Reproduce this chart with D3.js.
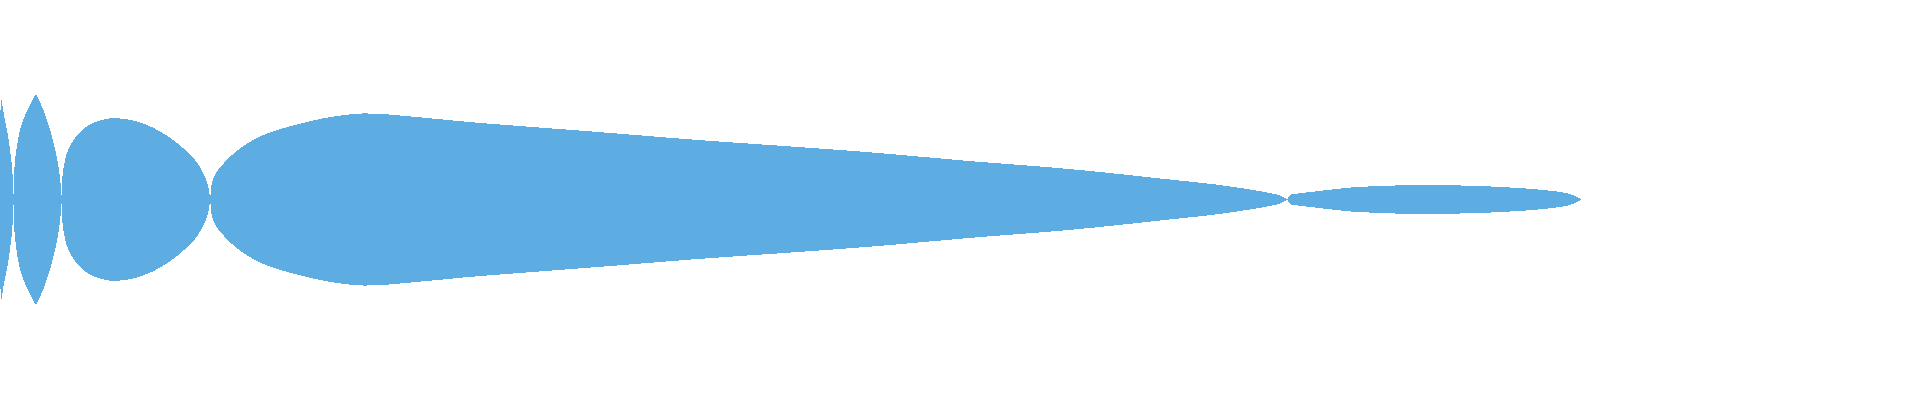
<!DOCTYPE html>
<html>
<head>
<meta charset="utf-8">
<style>
  html, body { margin: 0; padding: 0; background: #fff; overflow: hidden; }
</style>
<script src="https://cdn.jsdelivr.net/npm/d3@7"></script>
</head>
<body>
<div id="d3Id"></div>
<script>
// half thickness of the band at each position, sign flips at every pinch
var lobe1 = [[-8, 0], [-4, 55], [0, 83.5], [1.5, 99.5], [3, 90], [5, 79.5], [7, 69.5], [9, 57.5], [11, 42], [12, 32], [13, 17]]
var lobe2 = [[14, -25], [15, -38], [16, -47], [18, -60], [20, -69.5], [22, -76.5], [24, -82], [26, -86.5], [28, -91],
             [30, -95], [32, -99], [34, -102.5], [36, -105.5], [38, -101.5], [40, -97.5], [42, -93], [44, -88], [46, -82.5],
             [48, -76.5], [50, -70], [52, -63], [54, -55], [56, -46.5], [58, -36], [60, -22], [61, -10]]
var lobe3 = [[62, 17], [63, 28], [65, 39.5], [68, 49.5], [72, 57], [76, 63], [81, 68.5], [88, 74], [95, 77.5],
             [105, 80.5], [113, 81.5], [122, 81], [132, 79.5], [142, 76.5], [152, 72.5], [162, 67], [172, 60.5],
             [182, 52.5], [192, 43], [198, 35.5], [205, 23], [209, 9]]
var lobe4 = [[211, -10], [212, -17], [214, -23], [217, -28], [220, -32], [230, -42.8], [240, -51.2], [250, -57.8], [263, -64.5],
             [280, -70.5], [297, -75.2], [313, -79.2], [330, -82.6], [347, -85], [362, -86.2], [380, -85.8], [397, -84.5], [413, -83],
             [447, -79.8], [470, -77.6], [600, -67.5], [700, -59.5], [800, -52.5], [880, -46.5], [970, -38.5], [1070, -30.5],
             [1170, -20], [1220, -14.5], [1250, -10], [1270, -6.5], [1280, -4], [1287, 0]]
var lobe5 = [[1290, 4.5], [1300, 6.2], [1313, 7.8], [1330, 9.8], [1353, 12.2], [1380, 13.5], [1413, 14.5], [1433, 14.5], [1453, 14.2],
             [1480, 13.5], [1507, 12.2], [1533, 10.5], [1553, 8.5], [1567, 6.2], [1577, 2.8], [1581, 0]]

var band = lobe1.concat(lobe2, lobe3, lobe4, lobe5)

var width = 1920,
    height = 400;

var svg = d3.select('#d3Id')
  .append("svg")
  .attr("width", width)
  .attr("height", height)
  .style("display", "block");

var x_scale = d3.scaleLinear().domain([0, 1920]).range([0, width])
var y_scale = d3.scaleLinear().domain([-200, 200]).range([height - 1, 0])

var area = d3.area()
  .x(d => x_scale(d[0]))
  .y0(d => y_scale(-d[1]))
  .y1(d => y_scale(d[1]))
  .curve(d3.curveCatmullRom.alpha(0.5));

svg.append("path")
  .datum(band)
  .attr("d", area)
  .style("fill", "#5dade2")
  .style("stroke", "none")
  .attr("shape-rendering", "crispEdges");
</script>
</body>
</html>
